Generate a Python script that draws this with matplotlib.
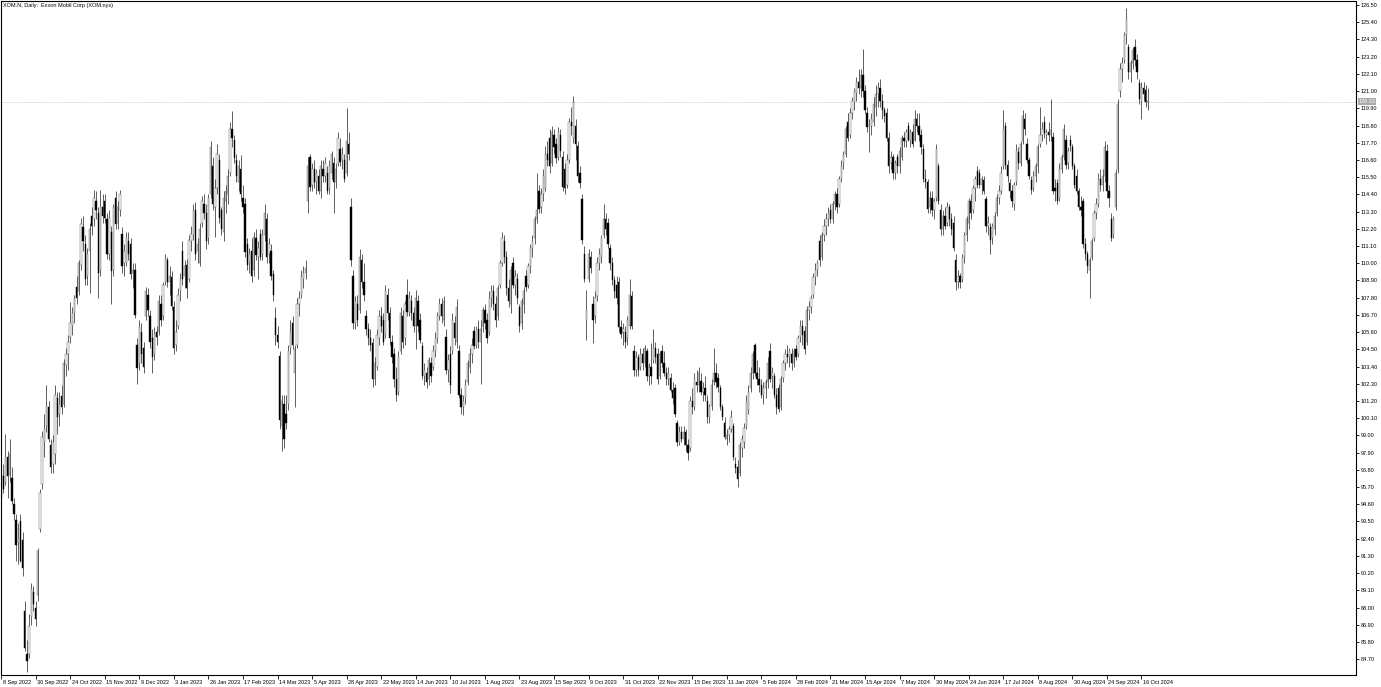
import numpy as np
import matplotlib
matplotlib.use("Agg")
import matplotlib.pyplot as plt
from matplotlib.transforms import ScaledTranslation

plt.rcParams['font.family'] = ['Liberation Sans', 'DejaVu Sans']

TITLE = "XOM.N, Daily:  Exxon Mobil Corp (XOM.nys)"

# one label every 16 bars, starting at bar 0
date_labels = [
    "8 Sep 2022", "30 Sep 2022", "24 Oct 2022", "15 Nov 2022", "9 Dec 2022",
    "3 Jan 2023", "26 Jan 2023", "17 Feb 2023", "14 Mar 2023", "5 Apr 2023",
    "28 Apr 2023", "22 May 2023", "14 Jun 2023", "10 Jul 2023", "1 Aug 2023",
    "23 Aug 2023", "15 Sep 2023", "9 Oct 2023", "31 Oct 2023", "22 Nov 2023",
    "15 Dec 2023", "11 Jan 2024", "5 Feb 2024", "28 Feb 2024", "21 Mar 2024",
    "15 Apr 2024", "7 May 2024", "30 May 2024", "24 Jun 2024", "17 Jul 2024",
    "8 Aug 2024", "30 Aug 2024", "24 Sep 2024", "16 Oct 2024",
]

price_ticks = [
    126.50, 125.40, 124.30, 123.20, 122.10, 121.00, 119.90, 118.80, 117.70,
    116.60, 115.50, 114.40, 113.30, 112.20, 111.10, 110.00, 108.90, 107.80,
    106.70, 105.60, 104.50, 103.40, 102.30, 101.20, 100.10, 99.00, 97.90,
    96.80, 95.70, 94.60, 93.50, 92.40, 91.30, 90.20, 89.10, 88.00, 86.90,
    85.80, 84.70,
]

opens = [
    95.0, 96.4, 96.0, 97.6, 96.5, 96.3, 94.6, 93.6, 92.2, 93.5,
    92.3, 87.8, 85.0, 85.0, 87.4, 89.0, 88.0, 88.8, 93.0, 95.9,
    98.6, 99.6, 100.8, 98.4, 97.2, 97.8, 101.4, 100.4, 101.5, 101.0,
    103.5, 104.2, 105.3, 106.0, 106.8, 108.5, 108.2, 109.9, 112.3, 111.2,
    109.2, 110.8, 113.0, 112.8, 114.0, 113.2, 109.6, 113.6, 114.0, 112.8,
    110.6, 112.0, 109.6, 114.2, 112.6, 113.4, 111.9, 110.0, 110.0, 111.4,
    111.2, 109.4, 109.6, 104.8, 103.6, 105.6, 104.6, 106.6, 108.0, 106.6,
    105.2, 104.2, 105.6, 105.6, 107.4, 106.6, 108.8, 110.2, 108.8, 109.1,
    107.2, 104.8, 106.0, 108.2, 110.8, 109.2, 109.9, 109.0, 111.4, 111.8,
    113.4, 110.8, 110.0, 112.6, 113.8, 113.2, 111.6, 114.4, 116.2, 113.6,
    114.8, 116.6, 113.4, 112.0, 114.0, 114.4, 115.8, 118.6, 117.9, 116.6,
    115.2, 116.0, 114.2, 113.8, 111.2, 110.0, 110.8, 109.6, 111.6, 110.4,
    111.9, 110.6, 111.8, 112.8, 110.6, 110.8, 109.3, 106.5, 105.4, 104.1,
    99.6, 101.0, 100.4, 101.0, 104.6, 106.2, 103.0, 104.8, 107.4, 108.0,
    109.0, 109.4, 114.0, 116.8, 115.0, 116.0, 115.2, 115.6, 114.6, 116.0,
    115.6, 115.8, 114.8, 115.8, 116.4, 115.2, 116.4, 117.3, 116.6, 116.6,
    115.8, 117.6, 113.6, 109.2, 106.2, 107.4, 107.0, 110.2, 108.8, 106.6,
    105.8, 105.2, 104.9, 102.6, 103.4, 105.2, 106.6, 106.4, 105.4, 108.0,
    106.8, 105.0, 104.2, 102.6, 101.8, 104.4, 106.6, 105.2, 108.0, 106.9,
    107.6, 106.8, 106.0, 107.6, 106.4, 104.7, 102.8, 103.0, 102.6, 103.6,
    103.4, 104.4, 105.2, 106.6, 107.4, 106.4, 105.3, 103.2, 104.2, 104.4,
    106.2, 105.0, 104.4, 101.6, 100.8, 101.4, 102.4, 103.4, 104.2, 105.7,
    104.8, 105.8, 105.0, 106.0, 107.0, 106.4, 105.6, 107.8, 108.2, 107.4,
    106.6, 108.6, 110.0, 111.4, 110.4, 108.4, 107.4, 110.0, 108.6, 109.0,
    107.2, 106.2, 107.4, 109.2, 108.6, 109.8, 111.0, 111.6, 112.8, 114.6,
    113.6, 114.4, 114.8, 117.0, 118.0, 116.4, 118.2, 117.6, 116.8, 118.2,
    116.8, 116.0, 115.0, 116.6, 119.0, 118.0, 118.8, 117.5, 115.8, 114.1,
    110.6, 106.4, 109.0, 110.4, 107.4, 106.6, 107.9, 110.0, 110.4, 111.8,
    112.8, 112.6, 111.0, 110.0, 108.9, 108.6, 108.8, 105.9, 105.6, 105.6,
    105.2, 106.0, 107.9, 104.4, 103.2, 104.0, 103.4, 104.2, 103.6, 104.4,
    102.8, 103.4, 103.8, 104.6, 104.2, 102.8, 104.4, 103.6, 103.0, 102.6,
    102.7, 101.9, 102.0, 99.8, 98.6, 99.2, 98.8, 99.2, 98.4, 98.2,
    101.2, 100.8, 102.4, 102.2, 102.5, 101.8, 102.0, 101.2, 100.2, 100.9,
    102.4, 103.0, 102.7, 102.0, 100.8, 99.8, 98.8, 99.0, 99.4, 99.6,
    97.2, 97.0, 96.6, 98.2, 98.6, 99.6, 100.6, 102.0, 103.0, 104.8,
    103.0, 102.6, 102.2, 101.6, 102.0, 102.4, 104.4, 102.8, 102.8, 101.6,
    102.0, 100.8, 102.7, 103.6, 104.2, 104.0, 104.2, 103.6, 104.5, 104.2,
    105.3, 106.0, 105.7, 105.0, 107.0, 107.2, 108.0, 109.1, 109.6, 111.4,
    110.4, 111.8, 112.4, 112.8, 113.4, 112.8, 113.8, 114.4, 113.8, 115.4,
    116.4, 117.0, 119.0, 118.2, 119.6, 120.3, 120.9, 121.6, 121.2, 122.0,
    121.0, 119.6, 118.7, 118.8, 119.0, 120.0, 120.8, 121.2, 120.4, 119.8,
    119.6, 118.0, 116.4, 116.8, 115.8, 116.8, 116.2, 116.8, 118.0, 117.8,
    118.8, 117.9, 118.4, 117.9, 119.2, 118.8, 118.2, 117.3, 115.4, 115.2,
    113.6, 114.2, 113.4, 114.2, 116.2, 113.4, 112.2, 113.0, 112.6, 113.6,
    112.8, 112.6, 110.2, 108.8, 109.2, 109.0, 110.4, 111.8, 112.6, 114.0,
    113.4, 114.8, 115.9, 115.8, 115.0, 115.3, 114.1, 112.4, 112.3, 111.6,
    112.2, 113.2, 114.2, 114.6, 116.2, 118.8, 116.3, 115.1, 114.6, 113.8,
    115.2, 117.1, 116.4, 117.8, 119.2, 117.6, 116.6, 115.3, 114.8, 115.6,
    116.2, 117.6, 118.2, 119.0, 118.2, 118.4, 118.2, 118.1, 114.8, 115.1,
    114.2, 116.0, 116.8, 117.9, 116.4, 117.9, 117.4, 116.2, 115.6, 114.6,
    113.6, 114.0, 111.2, 110.6, 109.6, 110.4, 111.6, 113.2, 113.8, 115.4,
    115.0, 115.6, 117.2, 114.6, 112.8, 111.8, 113.6, 116.0, 121.0, 122.4,
    123.0, 124.6, 123.8, 122.2, 122.8, 123.8, 123.0, 121.5, 120.4, 121.2,
    121.1, 120.3,
]

highs = [
    97.0, 97.2, 99.1, 98.0, 98.8, 97.0, 95.0, 94.0, 93.4, 94.0,
    92.8, 88.4, 85.9, 87.6, 89.6, 89.4, 88.4, 91.8, 95.6, 99.3,
    100.4, 102.2, 101.2, 98.8, 99.0, 102.2, 101.8, 101.8, 102.2, 103.9,
    104.6, 105.4, 107.5, 107.2, 108.0, 109.2, 110.2, 112.9, 113.0, 111.8,
    111.0, 112.6, 113.6, 114.7, 114.6, 113.6, 114.7, 114.4, 114.4, 113.2,
    113.4, 112.4, 113.8, 114.6, 114.0, 114.7, 112.3, 111.2, 112.0, 112.0,
    111.6, 110.0, 110.0, 105.2, 106.4, 106.2, 105.0, 108.5, 108.4, 107.0,
    105.8, 105.9, 106.0, 108.0, 108.0, 108.8, 110.6, 110.4, 109.8, 109.5,
    107.6, 106.4, 108.4, 109.4, 111.4, 110.2, 110.3, 111.8, 112.4, 113.8,
    113.9, 111.6, 112.6, 114.3, 114.4, 113.8, 114.4, 117.8, 116.8, 115.4,
    117.6, 117.0, 113.6, 114.6, 115.0, 116.0, 119.0, 119.7, 118.2, 117.0,
    116.6, 116.9, 115.0, 114.2, 111.6, 111.0, 111.6, 112.0, 112.2, 111.4,
    112.2, 112.2, 113.8, 113.2, 111.6, 111.2, 109.6, 107.2, 106.0, 104.4,
    101.6, 101.6, 101.6, 104.8, 106.4, 106.6, 104.8, 107.8, 108.2, 109.6,
    109.8, 110.2, 116.8, 117.0, 116.4, 116.6, 116.0, 116.0, 116.6, 116.6,
    116.8, 116.2, 116.6, 117.2, 116.8, 116.4, 118.4, 118.0, 117.4, 117.0,
    119.9, 118.4, 114.2, 109.6, 107.9, 108.0, 110.9, 110.6, 110.0, 107.0,
    106.2, 105.8, 105.2, 104.0, 105.8, 107.0, 107.2, 106.8, 108.6, 108.4,
    107.2, 105.4, 104.6, 103.4, 104.4, 107.2, 107.0, 107.6, 109.0, 108.2,
    108.0, 107.2, 108.3, 108.0, 106.8, 105.0, 103.6, 103.4, 104.0, 104.0,
    104.8, 105.6, 106.9, 107.8, 107.8, 107.9, 105.8, 104.2, 104.7, 106.8,
    106.6, 107.7, 104.8, 102.0, 101.6, 102.6, 103.8, 104.6, 105.2, 106.0,
    106.0, 106.4, 106.4, 107.2, 107.4, 106.8, 108.2, 108.6, 108.6, 107.9,
    108.6, 110.2, 112.0, 111.8, 110.8, 109.0, 109.8, 110.4, 109.6, 109.4,
    107.4, 107.8, 108.5, 109.6, 110.0, 111.2, 111.8, 113.0, 115.8, 115.0,
    114.8, 116.0, 117.5, 117.8, 118.6, 118.8, 118.6, 118.0, 118.7, 118.6,
    117.2, 116.4, 117.0, 119.3, 120.0, 120.7, 119.2, 117.8, 116.2, 114.4,
    111.1, 108.3, 110.9, 110.8, 107.9, 108.2, 110.4, 111.0, 111.8, 113.8,
    113.2, 112.9, 111.2, 110.4, 109.2, 109.2, 109.1, 106.4, 106.2, 106.0,
    106.6, 109.0, 108.2, 104.8, 104.4, 104.2, 104.6, 104.6, 104.8, 104.6,
    103.6, 104.9, 105.8, 105.0, 104.6, 104.4, 104.8, 104.4, 103.4, 103.4,
    103.0, 102.4, 102.3, 100.0, 99.6, 99.6, 99.6, 99.4, 98.8, 101.5,
    102.0, 103.0, 103.2, 103.4, 103.0, 102.4, 102.8, 101.6, 101.0, 102.6,
    104.6, 103.6, 103.0, 102.2, 101.0, 100.2, 99.4, 99.6, 100.6, 99.8,
    97.6, 97.4, 98.6, 99.0, 99.8, 101.6, 102.2, 103.4, 104.4, 104.9,
    103.8, 103.4, 102.6, 102.4, 102.6, 104.0, 104.9, 103.4, 103.0, 102.0,
    102.3, 102.8, 103.8, 104.5, 104.8, 104.6, 104.6, 104.6, 104.8, 105.4,
    106.4, 106.4, 106.0, 107.3, 107.6, 108.0, 109.4, 110.0, 110.2, 111.8,
    112.0, 112.8, 113.2, 113.6, 113.8, 114.0, 114.6, 114.8, 115.6, 116.6,
    117.2, 118.8, 119.6, 119.9, 120.6, 121.2, 121.9, 122.4, 122.4, 123.7,
    121.4, 120.0, 119.2, 119.6, 120.6, 121.4, 121.6, 121.8, 120.8, 120.0,
    119.9, 118.4, 117.2, 117.0, 116.6, 117.0, 117.4, 118.2, 118.4, 118.6,
    119.0, 118.6, 118.9, 119.8, 119.6, 119.6, 118.6, 117.6, 116.0, 115.4,
    114.6, 114.6, 114.2, 117.6, 116.4, 113.8, 113.4, 113.6, 113.9, 113.8,
    113.2, 113.0, 110.6, 109.6, 109.4, 110.6, 112.0, 113.0, 114.2, 114.4,
    115.0, 115.6, 116.2, 116.0, 115.6, 115.6, 114.3, 113.0, 112.6, 112.6,
    113.3, 114.4, 115.0, 116.2, 119.8, 119.0, 116.6, 115.4, 115.0, 115.2,
    117.6, 117.4, 117.8, 119.8, 119.6, 118.0, 116.8, 115.6, 115.9, 116.4,
    117.6, 120.0, 119.0, 119.4, 118.6, 119.0, 120.5, 118.4, 115.4, 115.4,
    116.4, 117.0, 118.9, 118.2, 117.4, 118.2, 117.6, 116.4, 116.0, 114.8,
    114.3, 114.2, 111.6, 110.8, 110.4, 111.6, 113.4, 114.2, 115.8, 116.0,
    116.0, 117.8, 117.6, 115.0, 113.2, 113.0, 116.0, 120.5, 122.8, 123.2,
    124.8, 126.3, 124.0, 123.0, 123.8, 124.3, 123.4, 121.8, 121.6, 121.6,
    121.4, 121.2,
]

lows = [
    94.4, 95.3, 95.8, 95.0, 96.0, 94.6, 93.6, 91.0, 90.8, 90.9,
    90.0, 85.2, 83.9, 84.8, 86.9, 87.8, 86.8, 88.4, 92.8, 95.6,
    97.6, 99.2, 98.6, 96.6, 96.6, 97.2, 99.1, 99.6, 100.4, 100.8,
    102.8, 103.2, 104.9, 105.4, 106.2, 107.4, 108.0, 109.6, 110.8, 108.6,
    108.6, 108.1, 111.8, 112.4, 112.8, 107.8, 109.2, 112.6, 112.6, 110.3,
    110.2, 107.4, 109.2, 112.2, 112.2, 113.0, 109.4, 109.2, 109.8, 110.2,
    109.0, 108.4, 106.5, 102.3, 103.2, 103.6, 103.0, 106.4, 106.6, 104.6,
    103.0, 103.8, 104.8, 105.4, 106.0, 106.4, 108.6, 108.5, 108.0, 107.0,
    104.2, 104.4, 105.8, 107.6, 108.6, 108.4, 107.8, 108.8, 110.8, 111.5,
    110.2, 110.0, 109.8, 112.3, 112.8, 110.9, 111.2, 114.2, 113.4, 111.7,
    114.4, 112.6, 111.8, 111.4, 113.2, 113.8, 115.6, 117.4, 116.4, 115.2,
    114.6, 114.0, 113.2, 110.4, 109.6, 109.4, 108.8, 109.2, 110.2, 109.0,
    110.2, 110.2, 111.4, 110.0, 110.0, 108.9, 107.6, 104.8, 104.6, 99.4,
    98.0, 98.2, 99.4, 100.6, 104.2, 104.5, 100.8, 104.6, 106.6, 107.8,
    108.4, 109.0, 113.2, 114.6, 114.6, 114.8, 114.4, 114.4, 114.2, 115.2,
    115.2, 114.4, 114.4, 115.4, 113.2, 114.8, 116.2, 116.2, 116.0, 115.2,
    115.6, 116.6, 109.8, 105.8, 105.8, 106.0, 106.8, 108.4, 107.6, 105.4,
    104.8, 104.4, 102.1, 102.2, 103.2, 104.8, 105.6, 104.8, 105.2, 106.4,
    104.8, 103.6, 102.1, 101.2, 101.6, 104.2, 104.6, 104.8, 106.6, 106.6,
    106.4, 105.6, 104.5, 105.6, 104.9, 102.6, 102.2, 102.0, 102.2, 102.4,
    103.2, 104.0, 104.9, 106.4, 106.2, 106.0, 102.9, 102.4, 101.7, 104.2,
    104.8, 104.6, 101.4, 100.4, 100.3, 101.0, 102.2, 103.0, 103.6, 104.5,
    104.6, 104.6, 102.3, 105.6, 105.8, 104.9, 105.4, 107.2, 107.0, 105.9,
    106.4, 108.4, 109.8, 110.0, 108.0, 107.2, 106.8, 108.4, 108.0, 107.4,
    105.6, 105.8, 106.8, 108.2, 108.4, 109.4, 110.4, 111.2, 112.6, 113.2,
    113.2, 114.0, 114.6, 116.2, 115.8, 116.2, 117.0, 116.4, 116.6, 116.8,
    114.6, 114.4, 114.8, 116.4, 118.2, 117.7, 116.6, 115.2, 114.8, 111.2,
    108.8, 105.1, 108.8, 109.4, 104.9, 106.2, 107.6, 109.6, 110.0, 111.6,
    111.8, 111.0, 109.6, 108.6, 107.8, 107.4, 105.6, 105.2, 104.8, 104.6,
    104.8, 105.8, 105.8, 102.8, 102.8, 102.8, 103.2, 103.2, 103.4, 102.5,
    102.2, 102.3, 103.6, 103.6, 102.3, 102.6, 103.4, 102.8, 102.2, 102.2,
    101.8, 101.0, 100.2, 98.3, 98.4, 98.6, 98.4, 98.0, 97.4, 98.0,
    100.4, 100.6, 101.8, 101.8, 101.6, 101.2, 101.2, 99.8, 99.8, 100.6,
    102.2, 102.0, 101.8, 100.6, 100.0, 98.8, 98.4, 98.6, 99.2, 97.4,
    96.6, 95.7, 96.4, 97.6, 98.2, 99.4, 100.4, 101.8, 102.6, 102.8,
    102.2, 101.8, 101.4, 101.0, 101.4, 102.0, 102.4, 102.0, 101.4, 100.4,
    100.5, 100.6, 102.4, 103.2, 103.6, 103.4, 103.2, 103.4, 103.8, 104.0,
    105.0, 104.8, 104.2, 104.8, 106.4, 106.8, 107.8, 108.6, 109.2, 109.8,
    110.2, 111.4, 111.8, 112.4, 112.6, 112.6, 113.4, 113.2, 113.6, 115.2,
    116.0, 116.8, 117.8, 118.0, 119.2, 119.8, 120.4, 120.8, 120.6, 120.6,
    119.6, 118.4, 117.1, 118.2, 118.8, 119.4, 120.0, 120.0, 119.2, 119.0,
    117.8, 115.8, 116.0, 115.4, 115.4, 115.8, 115.8, 116.6, 117.4, 117.4,
    117.8, 117.4, 117.4, 117.8, 118.4, 117.8, 117.0, 115.2, 114.8, 113.2,
    113.2, 113.0, 112.8, 114.0, 113.8, 111.8, 111.8, 112.2, 112.4, 112.4,
    111.8, 110.8, 108.3, 108.4, 108.4, 108.8, 110.0, 111.4, 112.2, 112.8,
    113.2, 114.0, 114.8, 114.8, 114.4, 114.4, 112.0, 111.8, 110.6, 111.2,
    111.8, 113.0, 113.8, 114.4, 116.0, 116.0, 115.2, 114.2, 113.6, 113.4,
    115.0, 116.0, 116.2, 117.6, 118.2, 116.4, 115.4, 114.4, 114.6, 115.2,
    115.8, 117.4, 117.8, 118.0, 117.6, 117.8, 117.8, 114.4, 114.0, 113.8,
    114.0, 115.8, 116.6, 116.0, 116.0, 117.2, 116.0, 114.8, 114.4, 113.4,
    113.0, 111.0, 110.2, 109.4, 107.8, 110.2, 111.4, 112.8, 113.6, 114.6,
    114.6, 115.2, 114.2, 113.6, 111.4, 111.6, 113.4, 115.8, 120.6, 121.6,
    122.8, 124.0, 121.8, 121.6, 122.4, 122.6, 121.8, 120.2, 119.2, 120.4,
    120.0, 119.8,
]

closes = [
    96.5, 95.6, 97.6, 96.4, 97.8, 94.8, 94.0, 92.0, 92.4, 91.0,
    90.5, 85.4, 84.6, 86.8, 89.2, 88.2, 87.3, 91.6, 95.3, 98.9,
    99.4, 100.9, 98.8, 97.0, 98.6, 101.6, 100.2, 101.0, 100.8, 103.6,
    104.2, 105.0, 106.2, 106.8, 107.7, 107.8, 110.0, 112.5, 111.4, 109.0,
    110.6, 112.2, 112.4, 114.2, 113.4, 109.4, 113.6, 113.0, 112.9, 110.6,
    112.9, 109.5, 113.6, 112.5, 113.6, 114.4, 109.8, 110.8, 111.6, 110.6,
    109.3, 109.6, 106.7, 103.3, 105.9, 104.2, 103.4, 108.2, 107.0, 105.0,
    104.0, 105.5, 105.3, 107.6, 106.4, 108.6, 110.3, 108.8, 109.2, 107.3,
    104.6, 105.6, 108.0, 109.0, 109.0, 109.8, 108.4, 111.5, 111.9, 113.4,
    110.6, 111.2, 112.2, 114.0, 113.2, 111.4, 114.2, 117.4, 113.8, 114.8,
    117.0, 112.9, 112.2, 114.2, 114.6, 115.6, 118.6, 118.0, 116.7, 115.6,
    116.2, 114.4, 113.6, 110.7, 109.9, 110.6, 109.2, 111.7, 110.5, 111.0,
    110.4, 111.8, 113.2, 110.4, 111.2, 109.2, 108.0, 105.4, 105.0, 100.0,
    101.2, 98.8, 99.8, 104.4, 105.6, 104.8, 104.5, 107.4, 107.8, 109.2,
    109.4, 109.7, 116.2, 114.9, 116.0, 115.2, 115.8, 114.6, 116.2, 115.6,
    116.4, 114.6, 116.2, 117.0, 115.2, 116.0, 118.0, 116.5, 117.0, 115.4,
    117.8, 117.0, 110.2, 106.2, 107.6, 106.4, 110.4, 108.8, 108.0, 105.8,
    105.2, 104.8, 102.6, 103.6, 105.4, 106.6, 106.0, 105.0, 108.2, 106.8,
    105.2, 104.0, 102.6, 101.6, 104.0, 106.8, 105.0, 107.4, 106.9, 107.8,
    106.8, 106.0, 107.8, 106.0, 105.1, 102.8, 103.2, 102.4, 103.8, 102.8,
    104.4, 105.2, 106.6, 107.4, 106.6, 107.6, 103.2, 103.8, 102.2, 106.4,
    105.2, 107.2, 101.6, 100.8, 101.2, 102.2, 103.6, 104.2, 104.8, 104.7,
    105.8, 105.0, 105.8, 107.0, 106.2, 105.2, 107.8, 108.2, 107.4, 106.4,
    108.4, 110.0, 111.6, 110.4, 108.4, 107.6, 109.6, 108.6, 109.2, 107.8,
    106.0, 107.6, 108.2, 108.5, 109.8, 111.0, 111.4, 112.8, 113.4, 113.5,
    114.4, 115.6, 117.0, 116.6, 116.2, 118.4, 117.4, 116.7, 118.4, 117.2,
    114.9, 114.8, 116.6, 119.0, 118.8, 120.3, 117.6, 115.6, 115.1, 111.5,
    109.0, 107.0, 110.6, 109.7, 106.4, 107.8, 110.0, 110.6, 111.6, 112.8,
    112.2, 111.2, 110.0, 108.9, 108.2, 107.8, 105.9, 105.5, 105.8, 105.0,
    106.4, 108.0, 106.0, 103.2, 104.0, 103.2, 104.2, 103.6, 104.6, 102.8,
    103.4, 102.8, 104.6, 104.0, 102.6, 104.2, 103.6, 103.0, 102.6, 103.0,
    101.9, 101.4, 100.4, 98.6, 99.2, 98.8, 99.2, 98.4, 97.9, 101.2,
    100.8, 102.6, 102.2, 103.0, 101.8, 102.0, 101.6, 100.2, 100.8, 102.2,
    103.0, 102.4, 102.1, 100.8, 100.2, 98.9, 99.0, 99.4, 100.2, 97.6,
    96.9, 96.2, 98.4, 98.8, 99.5, 101.2, 101.8, 103.0, 104.2, 103.0,
    102.6, 102.2, 101.6, 102.0, 102.4, 103.6, 102.6, 103.0, 101.6, 100.8,
    100.7, 102.6, 103.6, 104.2, 104.0, 104.4, 103.6, 104.4, 104.0, 105.2,
    106.0, 105.4, 104.5, 107.0, 107.2, 107.8, 109.1, 109.6, 110.0, 110.2,
    111.8, 112.4, 112.8, 113.2, 112.8, 113.8, 114.4, 113.6, 115.4, 116.2,
    116.9, 118.6, 118.0, 119.6, 120.4, 121.0, 121.6, 121.2, 122.0, 121.0,
    119.8, 118.7, 118.8, 119.2, 120.2, 120.8, 121.2, 120.4, 119.8, 119.4,
    118.0, 116.2, 116.8, 115.8, 116.4, 116.2, 117.2, 118.0, 117.8, 118.4,
    117.9, 118.4, 117.6, 119.2, 118.8, 118.2, 117.4, 115.4, 115.2, 113.5,
    114.2, 113.4, 114.0, 117.3, 114.0, 112.2, 113.0, 112.4, 113.6, 112.8,
    112.2, 111.0, 108.8, 109.2, 108.8, 110.4, 111.8, 112.8, 114.0, 113.2,
    114.8, 115.4, 115.0, 115.0, 115.4, 114.6, 112.4, 112.6, 111.5, 112.4,
    113.0, 114.2, 114.6, 115.8, 118.6, 116.3, 115.6, 114.6, 114.0, 115.0,
    117.2, 116.4, 117.6, 119.4, 118.6, 116.6, 115.6, 114.7, 115.6, 116.2,
    117.4, 118.2, 118.6, 118.3, 118.4, 118.2, 118.5, 114.6, 114.6, 114.0,
    116.0, 116.8, 118.6, 116.3, 117.2, 117.5, 116.2, 115.0, 114.6, 113.6,
    113.4, 111.2, 110.6, 109.8, 110.2, 111.4, 113.2, 113.8, 115.4, 115.0,
    115.6, 117.4, 114.6, 114.2, 111.6, 112.8, 115.8, 120.2, 122.4, 122.8,
    124.6, 125.6, 122.2, 122.8, 123.6, 123.0, 122.2, 120.5, 121.2, 120.8,
    120.3, 120.33,
]


def main() -> None:
    """Draws the daily candlestick chart in a terminal-like style."""

    W, H = 1381, 687
    fig = plt.figure(figsize=(W / 100, H / 100), dpi=100)
    fig.patch.set_facecolor("white")

    # plot frame: x 0.5..1355.5 px, y 1..675 px (from top)
    ax = fig.add_axes([0.5 / W, (H - 675) / H, 1355 / W, 674 / H])
    ax.set_facecolor("white")

    o = np.array(opens)
    h = np.array(highs)
    lo = np.array(lows)
    c = np.array(closes)
    x = np.arange(len(c))
    up = c >= o

    ax.vlines(x, lo, h, color="#202020", linewidth=0.5, zorder=1)
    body_bottom = np.minimum(o, c)
    body_height = np.maximum(np.abs(c - o), 0.05)
    ax.bar(x[up], body_height[up], bottom=body_bottom[up], width=0.62,
           color="white", edgecolor="#505050", linewidth=0.3, zorder=2)
    ax.bar(x[~up], body_height[~up], bottom=body_bottom[~up], width=0.62,
           color="black", edgecolor="black", linewidth=0.3, zorder=2)

    last = closes[-1]
    ax.axhline(last, color="#c8c8c8", linewidth=0.6, linestyle=(0, (1.5, 1.5)),
               zorder=0)

    ax.set_xlim(-0.25, 627.1)
    ax.set_ylim(83.69, 126.76)

    for sp in ax.spines.values():
        sp.set_color("black")
        sp.set_linewidth(0.8)

    # right price scale
    ax.yaxis.tick_right()
    ax.set_yticks(price_ticks)
    ax.set_yticklabels([f"{v:.2f}" for v in price_ticks])
    ax.tick_params(axis="y", direction="out", length=2.5, width=0.6,
                   pad=1.5, labelsize=4, colors="black")

    # time scale
    ax.set_xticks([16 * k for k in range(len(date_labels))])
    ax.set_xticklabels(date_labels)
    ax.tick_params(axis="x", direction="out", length=3, width=0.6,
                   pad=0.5, labelsize=4, colors="black")
    offset = ScaledTranslation(1.5 / 100, 0, fig.dpi_scale_trans)
    for lab in ax.get_xticklabels():
        lab.set_horizontalalignment("left")
        lab.set_transform(lab.get_transform() + offset)

    # last price marker on the scale
    ax.annotate(f"{last:.2f}", xy=(1.0, last), xycoords=("axes fraction", "data"),
                xytext=(2.2, 0), textcoords="offset points", fontsize=4,
                color="white", va="center", ha="left",
                bbox=dict(boxstyle="square,pad=0.15", fc="#a8a8a8", ec="none"),
                annotation_clip=False)

    fig.text(3 / W, 1 - 3 / H, TITLE, fontsize=4, va="top", ha="left")

    fig.savefig("out.png", dpi=100)


if __name__ == "__main__":
    main()
